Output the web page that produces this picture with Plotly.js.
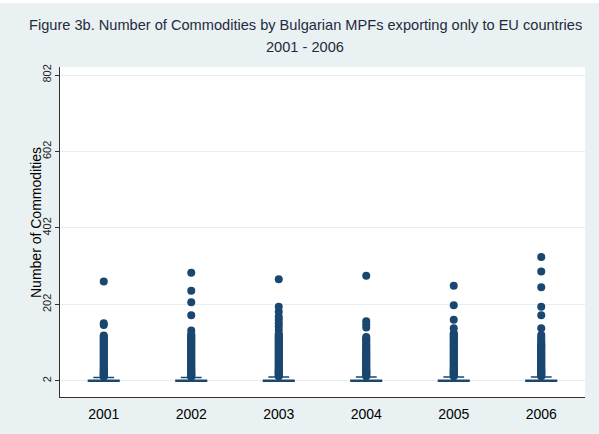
<!DOCTYPE html>
<html>
<head>
<meta charset="utf-8">
<script src="https://cdn.plot.ly/plotly-3.0.1.min.js"></script>
<style>
html,body{margin:0;padding:0;background:#ffffff;}
#chart{position:absolute;left:0;top:3px;width:599px;height:431px;}
</style>
</head>
<body>
<div id="chart"></div>
<script>
// ---- data ----
var years = ["2001", "2002", "2003", "2004", "2005", "2006"];
var q1Vals = [1, 1, 1, 1, 1, 1];
var medianVals = [1, 1, 1, 1, 1, 1];
var q3Vals = [4, 4, 4, 4, 4, 4];
var lowerVals = [1, 1, 1, 1, 1, 1];
var upperVals = [11, 11, 12, 12, 12, 12];

var out2001 = [13,15,17,19,21,23,25,27,29,31,34,37,40,43,46,49,52,55,58,61,64,67,70,73,76,79,82,85,88,91,94,97,100,103,106,109,112,115,118,121,148,153,262];
var out2002 = [13,15,17,19,21,23,25,27,29,31,34,37,40,43,46,49,52,55,58,61,64,67,70,73,76,79,82,85,88,91,94,97,100,103,106,109,112,115,118,121,125,134,174,208,238,285];
var out2003 = [14,16,18,20,22,24,26,28,30,32,35,38,41,44,47,50,53,56,59,62,65,68,71,74,77,80,83,86,89,92,95,98,101,104,107,110,113,116,119,122,125,135,145,153,162,170,183,196,268];
var out2004 = [14,16,18,20,22,24,26,28,30,32,35,38,41,44,47,50,53,56,59,62,65,68,71,74,77,80,83,86,89,92,96,100,105,109,113,117,142,150,158,277];
var out2005 = [14,16,18,20,22,24,26,28,30,32,35,38,41,44,47,50,53,56,59,62,65,68,71,74,77,80,83,86,89,92,95,98,101,104,107,110,113,116,119,122,125,127,140,162,200,251];
var out2006 = [14,16,18,20,22,24,26,28,30,32,35,38,41,44,47,50,53,56,59,62,65,68,71,74,77,80,83,86,89,92,95,98,100,105,110,116,122,140,174,196,247,288,326];

var yTicks = [2, 202, 402, 602, 802];
var titleLine1 = "Figure 3b. Number of Commodities by Bulgarian MPFs exporting only to EU countries";
var titleLine2 = "2001 - 2006";
var yTitle = "Number of Commodities";

// ---- build traces ----
var navy = "#1a476f";
var outLists = [out2001, out2002, out2003, out2004, out2005, out2006];
var ox = [], oy = [];
outLists.forEach(function (arr, i) {
  arr.forEach(function (v) { ox.push(years[i]); oy.push(v); });
});

var boxTrace = {
  type: "box",
  x: years,
  q1: q1Vals,
  median: medianVals,
  q3: q3Vals,
  lowerfence: lowerVals,
  upperfence: upperVals,
  fillcolor: navy,
  line: { color: navy, width: 1.5 },
  whiskerwidth: 0.68,
  boxpoints: false,
  showlegend: false,
  hoverinfo: "skip"
};

var outTrace = {
  type: "scatter",
  mode: "markers",
  x: ox,
  y: oy,
  marker: { color: navy, size: 8, line: { width: 0 } },
  showlegend: false,
  hoverinfo: "skip"
};

var bg = "#e9f1f3";
var layout = {
  width: 599,
  height: 431,
  margin: { l: 60, r: 14, t: 64, b: 37 },
  paper_bgcolor: bg,
  plot_bgcolor: "#ffffff",
  boxgap: 0.5,
  font: { family: "Liberation Sans, Arial, sans-serif", color: "#000000" },
  xaxis: {
    type: "category",
    categoryorder: "array",
    categoryarray: years,
    range: [-0.5, 5.5],
    showline: true,
    linecolor: "#333333",
    linewidth: 1,
    ticks: "outside",
    ticklen: 4,
    tickcolor: "rgba(0,0,0,0)",
    showgrid: false,
    zeroline: false,
    tickfont: { size: 14, color: "#000000" }
  },
  yaxis: {
    range: [-40, 823],
    tickvals: yTicks,
    ticktext: yTicks.map(String),
    tickangle: -90,
    ticks: "outside",
    ticklen: 4,
    tickcolor: "#333333",
    showline: true,
    linecolor: "#333333",
    linewidth: 1,
    showgrid: true,
    gridcolor: "#e6eef0",
    gridwidth: 1,
    zeroline: false,
    tickfont: { size: 11, color: "#222222" }
  },
  annotations: [
    { text: titleLine1, xref: "paper", yref: "paper", x: 0.4667, y: (397 - 25) / 330, xanchor: "center", yanchor: "middle", showarrow: false, font: { size: 14.6, color: "#1e2b3a" } },
    { text: titleLine2, xref: "paper", yref: "paper", x: 0.4667, y: (397 - 47) / 330, xanchor: "center", yanchor: "middle", showarrow: false, font: { size: 14.6, color: "#1e2b3a" } },
    { text: yTitle, xref: "paper", yref: "paper", x: (36 - 60) / 525, y: (397 - 223) / 330, xanchor: "center", yanchor: "middle", textangle: -90, showarrow: false, font: { size: 14, color: "#000000" } }
  ]
};

Plotly.newPlot("chart", [boxTrace, outTrace], layout, { staticPlot: true, displayModeBar: false });
</script>
</body>
</html>
